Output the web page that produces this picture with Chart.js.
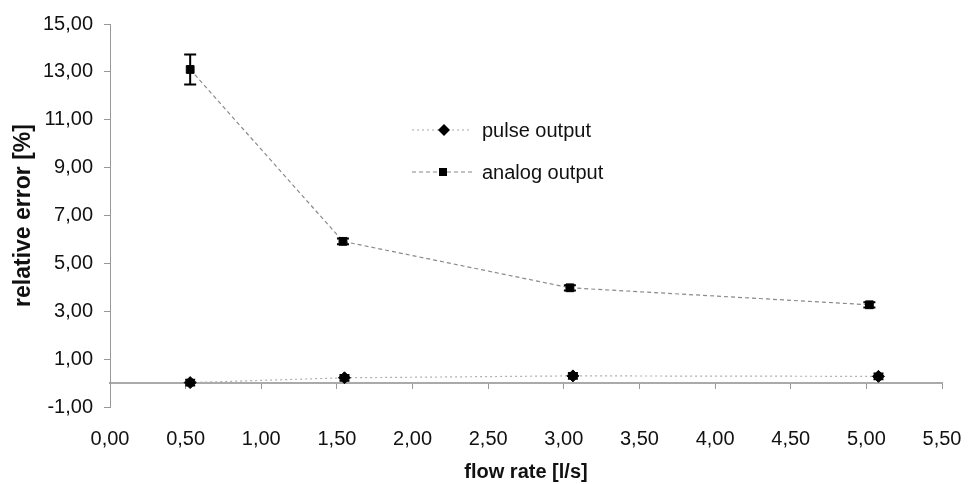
<!DOCTYPE html>
<html>
<head>
<meta charset="utf-8">
<script src="https://cdn.jsdelivr.net/npm/chart.js@4/dist/chart.umd.min.js"></script>
<style>
  html, body { margin: 0; padding: 0; background: #fff; }
  #wrap { position: relative; width: 971px; height: 484px; font-family: "Liberation Sans", Arial, sans-serif; }
  #legend { position: absolute; left: 410px; top: 114px; font-size: 20px; color: #111; }
  .item { display: flex; align-items: center; height: 32px; margin-bottom: 10px; }
  .item svg { margin-right: 8px; }
</style>
</head>
<body>
<div id="wrap">
  <canvas id="c" width="971" height="484"></canvas>
  <div id="legend"></div>
</div>
<script>
// ---- data ----
const seriesNames = ["pulse output", "analog output"];
const pulseX   = [0.53, 1.55, 3.06, 5.08];
const pulseY   = [0.02, 0.22, 0.30, 0.28];
const pulseErr = [0.12, 0.12, 0.12, 0.12];
const analogX   = [0.53, 1.54, 3.04, 5.02];
const analogY   = [13.10, 5.92, 3.98, 3.27];
const analogErr = [0.63, 0.12, 0.11, 0.11];
const xTicks = [0, 0.5, 1, 1.5, 2, 2.5, 3, 3.5, 4, 4.5, 5, 5.5];
const yTicks = [-1, 1, 3, 5, 7, 9, 11, 13, 15];

const fmt = v => v.toFixed(2).replace('.', ',');
const toPts = (xs, ys) => xs.map((x, i) => ({ x: x, y: ys[i] }));

const errorBars = {
  id: 'errorBars',
  afterDatasetsDraw(chart) {
    const ctx = chart.ctx;
    const ys = chart.scales.y;
    chart.data.datasets.forEach((ds, di) => {
      if (!ds.errors) return;
      const meta = chart.getDatasetMeta(di);
      ctx.save();
      ctx.strokeStyle = '#000';
      ctx.lineWidth = 2;
      meta.data.forEach((pt, i) => {
        const v = ds.data[i].y, e = ds.errors[i];
        const top = ys.getPixelForValue(v + e);
        const bot = ys.getPixelForValue(v - e);
        const x = pt.x;
        const cap = ds.capHalf;
        ctx.beginPath();
        ctx.moveTo(x, top); ctx.lineTo(x, bot);
        ctx.moveTo(x - cap, top); ctx.lineTo(x + cap, top);
        ctx.moveTo(x - cap, bot); ctx.lineTo(x + cap, bot);
        ctx.stroke();
      });
      ctx.restore();
    });
  }
};

const chart = new Chart(document.getElementById('c'), {
  type: 'scatter',
  data: {
    datasets: [
      {
        label: seriesNames[0],
        data: toPts(pulseX, pulseY),
        errors: pulseErr,
        capHalf: 5,
        showLine: true,
        borderColor: '#b0b0b0',
        borderWidth: 1.2,
        borderDash: [2, 3],
        pointStyle: 'rectRot',
        pointRadius: 6,
        pointBackgroundColor: '#000',
        pointBorderColor: '#000',
        pointBorderWidth: 1
      },
      {
        label: seriesNames[1],
        data: toPts(analogX, analogY),
        errors: analogErr,
        capHalf: 6,
        showLine: true,
        borderColor: '#8a8a8a',
        borderWidth: 1.2,
        borderDash: [4, 3],
        pointStyle: 'rect',
        pointRadius: 5.5,
        pointBackgroundColor: '#000',
        pointBorderColor: '#000',
        pointBorderWidth: 1
      }
    ]
  },
  options: {
    responsive: false,
    animation: false,
    layout: { padding: { top: 24, right: 0, left: 0, bottom: 0 } },
    plugins: { legend: { display: false }, tooltip: { enabled: false } },
    scales: {
      x: {
        type: 'linear',
        position: 'bottom',
        min: 0, max: 5.5,
        afterBuildTicks: s => { s.ticks = xTicks.map(v => ({ value: v })); },
        afterFit: s => { s.height = 77; s.paddingRight = 29; s.paddingLeft = 0; },
        grid: { display: false, drawTicks: false },
        border: { display: false },
        ticks: {
          color: '#111', padding: 20,
          font: { family: 'Liberation Sans', size: 20 },
          callback: v => fmt(v), maxRotation: 0, autoSkip: false
        },
        title: {
          display: true, text: 'flow rate [l/s]', color: '#111',
          font: { family: 'Liberation Sans', size: 20, weight: 'bold' },
          padding: { top: 0, bottom: 0 }
        }
      },
      x2: {
        type: 'linear',
        axis: 'x',
        position: { y: 0 },
        min: 0, max: 5.5,
        afterBuildTicks: s => { s.ticks = xTicks.map(v => ({ value: v })); },
        afterFit: s => { s.paddingRight = 0; s.paddingLeft = 0; },
        grid: { drawOnChartArea: false, drawTicks: true, tickLength: 5, color: '#999', lineWidth: 1 },
        border: { display: true, color: '#aaa', width: 2 },
        ticks: { display: false }
      },
      y: {
        type: 'linear',
        min: -1, max: 15,
        afterBuildTicks: s => { s.ticks = yTicks.map(v => ({ value: v })); },
        afterFit: s => { s.width = 110; },
        grid: { drawOnChartArea: false, drawTicks: true, tickLength: 6, color: '#999' },
        border: { display: true, color: '#999', width: 1 },
        ticks: {
          color: '#111', padding: 11,
          font: { family: 'Liberation Sans', size: 20 },
          callback: v => fmt(v)
        },
        title: {
          display: true, text: 'relative error [%]', color: '#111',
          font: { family: 'Liberation Sans', size: 23, weight: 'bold' },
          padding: { top: 10, bottom: 0 }
        }
      }
    }
  },
  plugins: [errorBars]
});

// HTML legend (real text)
const legend = document.getElementById('legend');
const glyphs = [
  '<svg width="64" height="16"><line x1="2" y1="8" x2="62" y2="8" stroke="#aaa" stroke-width="1.2" stroke-dasharray="2,3"/><polygon points="34,2 40,8 34,14 28,8" fill="#000"/></svg>',
  '<svg width="64" height="16"><line x1="2" y1="8" x2="62" y2="8" stroke="#888" stroke-width="1.2" stroke-dasharray="4,3"/><rect x="29" y="4" width="8" height="8" fill="#000"/></svg>'
];
seriesNames.forEach((n, i) => {
  const d = document.createElement('div');
  d.className = 'item';
  d.innerHTML = glyphs[i] + '<span>' + n + '</span>';
  legend.appendChild(d);
});
</script>
</body>
</html>
